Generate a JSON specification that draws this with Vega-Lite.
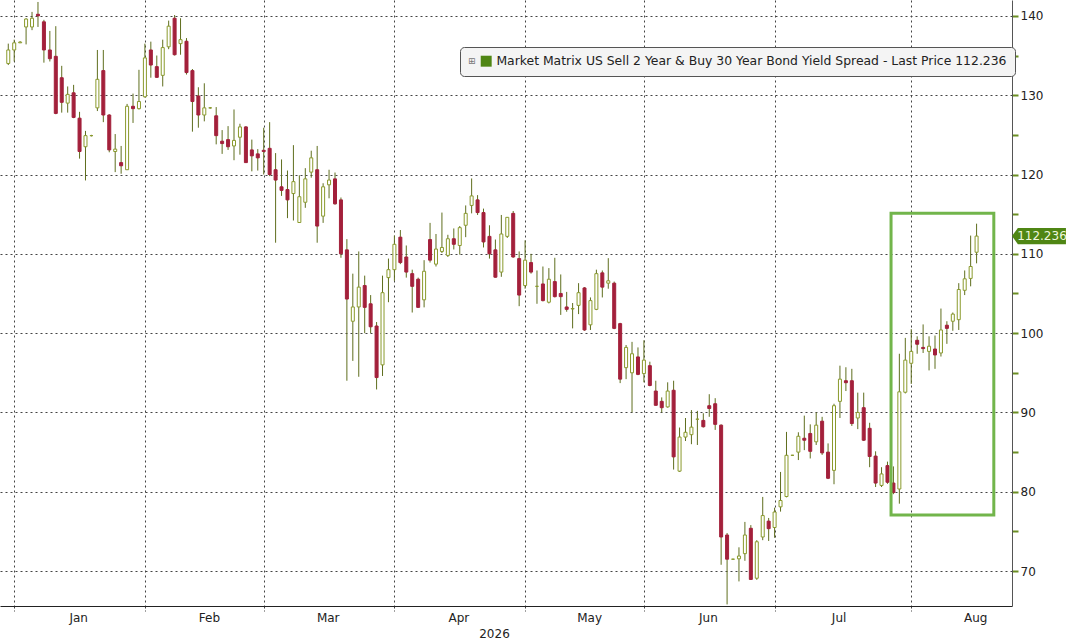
{
  "$schema": "https://vega.github.io/schema/vega-lite/v6.json",
  "description": "Market Matrix US Sell 2 Year & Buy 30 Year Bond Yield Spread, daily candles",
  "width": 1012,
  "height": 606,
  "autosize": {"type": "none"},
  "padding": {"left": 0, "top": 0, "right": 55, "bottom": 34},
  "background": "white",
  "config": {
    "font": "DejaVu Sans",
    "view": {"stroke": null}
  },
  "data": {
    "values": [
      {"day": 0, "open": 134.0, "high": 136.5, "low": 133.8, "close": 135.7},
      {"day": 1, "open": 135.7, "high": 137.0, "low": 134.25, "close": 136.6},
      {"day": 2, "open": 136.6, "high": 136.8, "low": 136.6, "close": 136.7},
      {"day": 3, "open": 138.6, "high": 139.7, "low": 136.4, "close": 139.6},
      {"day": 4, "open": 138.6, "high": 140.5, "low": 138.2, "close": 139.7},
      {"day": 5, "open": 140.2, "high": 141.75, "low": 138.6, "close": 140.0},
      {"day": 6, "open": 139.25, "high": 139.5, "low": 134.1, "close": 135.7},
      {"day": 7, "open": 135.7, "high": 138.1, "low": 134.25, "close": 134.6},
      {"day": 8, "open": 134.9, "high": 138.7, "low": 127.6, "close": 127.7},
      {"day": 9, "open": 132.2, "high": 133.7, "low": 127.8, "close": 129.1},
      {"day": 10, "open": 129.0, "high": 131.1, "low": 127.8, "close": 130.1},
      {"day": 11, "open": 130.3, "high": 131.3, "low": 127.1, "close": 127.2},
      {"day": 12, "open": 127.1, "high": 127.9, "low": 122.0, "close": 122.9},
      {"day": 13, "open": 123.5, "high": 125.5, "low": 119.25, "close": 124.9},
      {"day": 14, "open": 124.9, "high": 125.0, "low": 124.8, "close": 124.9},
      {"day": 15, "open": 128.4, "high": 135.7, "low": 128.0, "close": 132.0},
      {"day": 16, "open": 133.1, "high": 135.7, "low": 126.6, "close": 127.5},
      {"day": 17, "open": 127.5, "high": 127.6, "low": 122.8, "close": 123.1},
      {"day": 18, "open": 122.9, "high": 125.1, "low": 120.3, "close": 123.2},
      {"day": 19, "open": 121.5, "high": 123.6, "low": 120.1, "close": 121.1},
      {"day": 20, "open": 120.6, "high": 128.9, "low": 120.6, "close": 128.6},
      {"day": 21, "open": 128.6, "high": 130.2, "low": 126.5, "close": 128.3},
      {"day": 22, "open": 128.3, "high": 133.2, "low": 128.2, "close": 129.2},
      {"day": 23, "open": 129.8, "high": 136.5, "low": 129.7, "close": 134.7},
      {"day": 24, "open": 135.7, "high": 136.75, "low": 132.2, "close": 133.8},
      {"day": 25, "open": 133.6, "high": 135.0, "low": 132.2, "close": 132.25},
      {"day": 26, "open": 132.5, "high": 137.0, "low": 131.1, "close": 136.0},
      {"day": 27, "open": 136.1, "high": 139.4, "low": 135.8, "close": 138.7},
      {"day": 28, "open": 139.7, "high": 140.1, "low": 135.0, "close": 135.1},
      {"day": 29, "open": 136.5, "high": 139.7, "low": 135.1, "close": 137.0},
      {"day": 30, "open": 136.8, "high": 137.2, "low": 132.6, "close": 132.85},
      {"day": 31, "open": 133.1, "high": 133.3, "low": 125.4, "close": 129.2},
      {"day": 32, "open": 129.9, "high": 131.0, "low": 125.9, "close": 127.5},
      {"day": 33, "open": 127.5, "high": 131.5, "low": 126.7, "close": 128.4},
      {"day": 34, "open": 128.4, "high": 128.5, "low": 128.3, "close": 128.4},
      {"day": 35, "open": 127.4, "high": 128.5, "low": 123.8, "close": 124.9},
      {"day": 36, "open": 124.2, "high": 125.6, "low": 122.6, "close": 123.9},
      {"day": 37, "open": 124.4, "high": 126.1, "low": 123.1, "close": 123.5},
      {"day": 38, "open": 123.6, "high": 128.2, "low": 121.8, "close": 124.3},
      {"day": 39, "open": 124.7, "high": 126.4, "low": 122.5, "close": 126.0},
      {"day": 40, "open": 126.0, "high": 126.1, "low": 121.5, "close": 121.5},
      {"day": 41, "open": 123.1, "high": 124.4, "low": 120.4, "close": 122.35},
      {"day": 42, "open": 122.6, "high": 123.2, "low": 120.5, "close": 122.1},
      {"day": 43, "open": 123.05, "high": 125.9, "low": 120.0, "close": 122.9},
      {"day": 44, "open": 123.3, "high": 126.6, "low": 119.8, "close": 120.0},
      {"day": 45, "open": 120.6, "high": 122.7, "low": 111.4, "close": 119.3},
      {"day": 46, "open": 118.45, "high": 121.9, "low": 117.3, "close": 118.0},
      {"day": 47, "open": 118.1, "high": 120.5, "low": 114.5, "close": 116.8},
      {"day": 48, "open": 117.6, "high": 123.7, "low": 114.2, "close": 119.1},
      {"day": 49, "open": 113.95, "high": 119.9, "low": 113.9, "close": 117.2},
      {"day": 50, "open": 116.5, "high": 120.8, "low": 115.8, "close": 119.45},
      {"day": 51, "open": 120.3, "high": 123.0, "low": 119.6, "close": 122.1},
      {"day": 52, "open": 120.6, "high": 123.6, "low": 111.4, "close": 113.5},
      {"day": 53, "open": 114.75, "high": 118.9, "low": 113.9, "close": 118.45},
      {"day": 54, "open": 118.7, "high": 120.6, "low": 117.0, "close": 119.3},
      {"day": 55, "open": 119.45, "high": 120.25, "low": 116.2, "close": 116.3},
      {"day": 56, "open": 116.8, "high": 117.1, "low": 109.5, "close": 110.0},
      {"day": 57, "open": 110.5, "high": 111.85, "low": 94.0, "close": 104.3},
      {"day": 58, "open": 101.5, "high": 107.5, "low": 96.5, "close": 103.3},
      {"day": 59, "open": 103.3, "high": 110.3, "low": 94.5, "close": 105.8},
      {"day": 60, "open": 106.0, "high": 107.25, "low": 100.0, "close": 103.25},
      {"day": 61, "open": 103.7, "high": 104.8, "low": 100.0, "close": 100.8},
      {"day": 62, "open": 100.9, "high": 101.4, "low": 92.9, "close": 94.4},
      {"day": 63, "open": 96.0, "high": 107.25, "low": 94.6, "close": 105.1},
      {"day": 64, "open": 107.0, "high": 109.4, "low": 103.9, "close": 108.0},
      {"day": 65, "open": 108.0, "high": 112.3, "low": 106.6, "close": 111.2},
      {"day": 66, "open": 112.1, "high": 113.0, "low": 108.7, "close": 108.9},
      {"day": 67, "open": 109.6, "high": 111.05, "low": 107.0, "close": 107.7},
      {"day": 68, "open": 107.5, "high": 108.0, "low": 102.6, "close": 105.9},
      {"day": 69, "open": 106.8, "high": 107.0, "low": 103.2, "close": 103.25},
      {"day": 70, "open": 104.2, "high": 109.2, "low": 103.25, "close": 107.8},
      {"day": 71, "open": 111.8, "high": 113.9, "low": 108.9, "close": 109.2},
      {"day": 72, "open": 108.7, "high": 112.5, "low": 108.4, "close": 110.6},
      {"day": 73, "open": 110.3, "high": 115.2, "low": 110.1, "close": 110.8},
      {"day": 74, "open": 109.8, "high": 112.4, "low": 109.6, "close": 111.9},
      {"day": 75, "open": 111.9, "high": 113.2, "low": 110.55, "close": 111.2},
      {"day": 76, "open": 111.05, "high": 113.5, "low": 109.9, "close": 113.3},
      {"day": 77, "open": 113.6, "high": 116.1, "low": 112.1, "close": 115.1},
      {"day": 78, "open": 116.1, "high": 119.5, "low": 115.1, "close": 117.3},
      {"day": 79, "open": 116.8, "high": 117.4, "low": 114.9, "close": 115.2},
      {"day": 80, "open": 115.2, "high": 115.7, "low": 110.8, "close": 111.5},
      {"day": 81, "open": 112.2, "high": 113.6, "low": 109.4, "close": 110.0},
      {"day": 82, "open": 110.5, "high": 111.8, "low": 107.0, "close": 107.05},
      {"day": 83, "open": 107.7, "high": 114.9, "low": 107.1, "close": 112.5},
      {"day": 84, "open": 112.2, "high": 114.6, "low": 112.0, "close": 114.6},
      {"day": 85, "open": 115.1, "high": 115.4, "low": 109.5, "close": 109.6},
      {"day": 86, "open": 109.4, "high": 110.3, "low": 103.4, "close": 104.8},
      {"day": 87, "open": 106.0, "high": 111.7, "low": 105.6, "close": 109.2},
      {"day": 88, "open": 108.9, "high": 110.0, "low": 107.5, "close": 107.7},
      {"day": 89, "open": 105.9, "high": 107.9, "low": 103.7, "close": 105.9},
      {"day": 90, "open": 106.2, "high": 108.4, "low": 104.0, "close": 104.1},
      {"day": 91, "open": 103.9, "high": 108.2, "low": 103.75, "close": 106.8},
      {"day": 92, "open": 106.5, "high": 109.5, "low": 104.5, "close": 104.6},
      {"day": 93, "open": 105.0, "high": 107.4, "low": 102.3, "close": 104.6},
      {"day": 94, "open": 103.3, "high": 105.2, "low": 102.7, "close": 103.0},
      {"day": 95, "open": 103.05, "high": 103.8, "low": 100.6, "close": 103.1},
      {"day": 96, "open": 103.5, "high": 106.3, "low": 102.4, "close": 105.1},
      {"day": 97, "open": 105.7, "high": 105.8, "low": 100.3, "close": 100.4},
      {"day": 98, "open": 101.05, "high": 104.5, "low": 100.4, "close": 104.1},
      {"day": 99, "open": 103.0, "high": 108.0, "low": 102.9, "close": 107.5},
      {"day": 100, "open": 107.6, "high": 107.9, "low": 104.5, "close": 105.8},
      {"day": 101, "open": 106.3, "high": 109.45, "low": 105.6, "close": 106.6},
      {"day": 102, "open": 106.3, "high": 106.5, "low": 100.5, "close": 100.6},
      {"day": 103, "open": 101.2, "high": 101.3, "low": 93.7, "close": 94.2},
      {"day": 104, "open": 95.65, "high": 98.5, "low": 94.2, "close": 98.2},
      {"day": 105, "open": 95.0, "high": 98.9, "low": 90.0, "close": 97.4},
      {"day": 106, "open": 97.0, "high": 98.2, "low": 94.7, "close": 94.8},
      {"day": 107, "open": 94.9, "high": 99.1, "low": 93.8, "close": 96.6},
      {"day": 108, "open": 95.9, "high": 96.4, "low": 93.3, "close": 93.4},
      {"day": 109, "open": 92.7, "high": 94.0, "low": 90.9, "close": 90.9},
      {"day": 110, "open": 91.4, "high": 91.9, "low": 90.0, "close": 90.6},
      {"day": 111, "open": 90.7, "high": 93.8, "low": 90.6, "close": 92.7},
      {"day": 112, "open": 92.8, "high": 94.0, "low": 82.8, "close": 84.4},
      {"day": 113, "open": 82.6, "high": 88.1, "low": 82.5, "close": 86.9},
      {"day": 114, "open": 86.9, "high": 89.3, "low": 86.4, "close": 87.5},
      {"day": 115, "open": 87.2, "high": 90.3, "low": 86.0, "close": 88.15},
      {"day": 116, "open": 89.15, "high": 90.2, "low": 85.9, "close": 89.15},
      {"day": 117, "open": 89.0, "high": 89.9, "low": 88.1, "close": 88.2},
      {"day": 118, "open": 90.85, "high": 92.3, "low": 89.45, "close": 90.5},
      {"day": 119, "open": 91.1, "high": 91.8, "low": 87.8, "close": 88.5},
      {"day": 120, "open": 88.4, "high": 88.5, "low": 70.8, "close": 74.3},
      {"day": 121, "open": 74.55, "high": 74.8, "low": 65.8, "close": 71.5},
      {"day": 122, "open": 71.5, "high": 71.55, "low": 71.45, "close": 71.5},
      {"day": 123, "open": 71.55, "high": 73.0, "low": 68.7, "close": 71.9},
      {"day": 124, "open": 72.2, "high": 76.2, "low": 71.3, "close": 74.55},
      {"day": 125, "open": 75.4, "high": 75.8, "low": 68.9, "close": 68.95},
      {"day": 126, "open": 69.1, "high": 73.9, "low": 68.9, "close": 73.7},
      {"day": 127, "open": 74.3, "high": 79.35, "low": 73.9, "close": 77.0},
      {"day": 128, "open": 76.3, "high": 76.7, "low": 73.8, "close": 75.35},
      {"day": 129, "open": 75.5, "high": 78.0, "low": 74.2, "close": 77.45},
      {"day": 130, "open": 78.1, "high": 82.5, "low": 77.5, "close": 78.9},
      {"day": 131, "open": 79.4, "high": 87.55, "low": 79.3, "close": 84.6},
      {"day": 132, "open": 84.6, "high": 84.65, "low": 84.55, "close": 84.6},
      {"day": 133, "open": 85.0, "high": 87.5, "low": 84.0, "close": 87.0},
      {"day": 134, "open": 86.75, "high": 89.6, "low": 85.25, "close": 86.5},
      {"day": 135, "open": 87.35, "high": 88.5, "low": 84.2, "close": 85.1},
      {"day": 136, "open": 86.3, "high": 90.0, "low": 85.9, "close": 88.4},
      {"day": 137, "open": 88.9, "high": 89.45, "low": 84.65, "close": 84.9},
      {"day": 138, "open": 85.0, "high": 86.1, "low": 81.6, "close": 81.7},
      {"day": 139, "open": 82.7, "high": 91.1, "low": 80.95, "close": 90.85},
      {"day": 140, "open": 91.4, "high": 95.9, "low": 89.3, "close": 94.2},
      {"day": 141, "open": 94.0, "high": 95.7, "low": 92.7, "close": 93.75},
      {"day": 142, "open": 94.0, "high": 95.5, "low": 88.3, "close": 88.6},
      {"day": 143, "open": 89.3, "high": 92.5, "low": 87.9, "close": 90.0},
      {"day": 144, "open": 90.6, "high": 92.5, "low": 86.4, "close": 86.5},
      {"day": 145, "open": 88.0, "high": 88.7, "low": 83.1, "close": 84.45},
      {"day": 146, "open": 84.5, "high": 85.1, "low": 80.6, "close": 81.1},
      {"day": 147, "open": 80.8, "high": 83.1, "low": 80.6, "close": 82.25},
      {"day": 148, "open": 83.3, "high": 83.8, "low": 81.0, "close": 81.2},
      {"day": 149, "open": 81.1, "high": 83.2, "low": 79.7, "close": 79.9},
      {"day": 150, "open": 80.35, "high": 97.4, "low": 78.5, "close": 92.6},
      {"day": 151, "open": 92.55, "high": 99.4, "low": 92.4, "close": 96.6},
      {"day": 152, "open": 96.2, "high": 100.5, "low": 93.6, "close": 97.7},
      {"day": 153, "open": 99.1, "high": 99.6, "low": 97.4, "close": 98.6},
      {"day": 154, "open": 98.2, "high": 101.1, "low": 97.5, "close": 98.05},
      {"day": 155, "open": 97.7, "high": 99.6, "low": 95.3, "close": 98.35},
      {"day": 156, "open": 98.0, "high": 99.7, "low": 95.5, "close": 97.25},
      {"day": 157, "open": 97.5, "high": 103.1, "low": 97.05, "close": 100.4},
      {"day": 158, "open": 101.0, "high": 101.5, "low": 98.65, "close": 100.6},
      {"day": 159, "open": 101.5, "high": 102.6, "low": 100.3, "close": 102.4},
      {"day": 160, "open": 101.7, "high": 106.3, "low": 100.4, "close": 105.5},
      {"day": 161, "open": 105.4, "high": 107.9, "low": 104.8, "close": 106.85},
      {"day": 162, "open": 106.9, "high": 112.3, "low": 105.9, "close": 108.4},
      {"day": 163, "open": 110.2, "high": 113.8, "low": 108.8, "close": 112.236}
    ]
  },
  "layer": [
    {
      "mark": {"type": "rule", "color": "#5f6e1e", "strokeWidth": 1},
      "encoding": {
        "x": {
          "field": "day",
          "type": "quantitative",
          "title": "2026",
          "scale": {"domain": [-0.55, 168.12], "nice": false, "zero": false},
          "axis": {
            "values": [1, 23, 43, 65, 87, 107, 129, 152],
            "labelExpr": "['Jan','Feb','Mar','Apr','May','Jun','Jul','Aug'][indexof([1,23,43,65,87,107,129,152], datum.value)]",
            "labelOffset": 64,
            "labelAlign": "center",
            "labelFlush": false,
            "labelOverlap": false,
            "labelBound": false,
            "labelPadding": 1,
            "labelFontSize": 12,
            "labelColor": "#222222",
            "grid": true,
            "gridDash": [2, 3],
            "gridColor": "#444444",
            "ticks": true,
            "tickSize": 5,
            "tickDash": [2, 2],
            "tickColor": "#444444",
            "domainColor": "#222222",
            "titleX": 494,
            "titleY": 31,
            "titleAlign": "center",
            "titleBaseline": "alphabetic",
            "titleFontWeight": "normal",
            "titleFontSize": 12,
            "titleColor": "#222222"
          }
        },
        "y": {
          "field": "low",
          "type": "quantitative",
          "title": null,
          "scale": {"domain": [65.6, 142], "nice": false, "zero": false},
          "axis": {
            "orient": "right",
            "values": [70, 75, 80, 85, 90, 95, 100, 105, 110, 115, 120, 125, 130, 135, 140],
            "labelExpr": "datum.value % 10 === 0 ? datum.label : ''",
            "labelFontSize": 12,
            "labelColor": "#222222",
            "labelPadding": 2,
            "grid": true,
            "gridDash": [2, 3],
            "gridColor": "#444444",
            "gridOpacity": {"condition": {"test": "datum.value % 10 !== 0", "value": 0}, "value": 1},
            "tickColor": "#6b8e23",
            "tickSize": 6,
            "tickWidth": 2,
            "domainColor": "#555555"
          }
        },
        "y2": {"field": "high"}
      }
    },
    {
      "mark": {"type": "bar", "width": 3, "strokeWidth": 1},
      "encoding": {
        "x": {"field": "day", "type": "quantitative", "title": "2026"},
        "y": {"field": "open", "type": "quantitative", "title": null},
        "y2": {"field": "close"},
        "fill": {
          "condition": {"test": "datum.close < datum.open", "value": "#a3203b"},
          "value": "#ffffff"
        },
        "stroke": {
          "condition": {"test": "datum.close < datum.open", "value": "#a3203b"},
          "value": "#8a9a2c"
        }
      }
    },
    {
      "data": {"values": [{}]},
      "mark": {"type": "rect", "filled": false, "color": "#72b54b", "strokeWidth": 3},
      "encoding": {
        "x": {"datum": 148.6},
        "x2": {"datum": 165.9},
        "y": {"datum": 77.07},
        "y2": {"datum": 115.11}
      }
    },
    {
      "data": {"values": [{"price": 112.236}]},
      "mark": {
        "type": "point",
        "shape": "M -1 0 L -0.78 -0.3 L 1 -0.3 L 1 0.3 L -0.78 0.3 Z",
        "size": 2916,
        "filled": true,
        "opacity": 1,
        "clip": false
      },
      "encoding": {
        "x": {"datum": 173.5},
        "y": {"field": "price", "type": "quantitative", "title": null},
        "color": {
          "datum": "Market Matrix US Sell 2 Year & Buy 30 Year Bond Yield Spread - Last Price 112.236",
          "scale": {"range": ["#4f8614"]},
          "legend": {
            "orient": "none",
            "legendX": 460,
            "legendY": 47,
            "title": "⊞",
            "titleOrient": "left",
            "titleFontSize": 9,
            "titleColor": "#777777",
            "titleFontWeight": "normal",
            "titlePadding": 4,
            "symbolType": "square",
            "symbolSize": 120,
            "symbolStrokeWidth": 0,
            "labelFontSize": 12.4,
            "labelColor": "#222222",
            "labelLimit": 1000,
            "fillColor": "#f4f4f4",
            "strokeColor": "#555555",
            "cornerRadius": 4,
            "padding": 8
          }
        }
      }
    },
    {
      "data": {"values": [{"price": 112.236}]},
      "mark": {
        "type": "text",
        "align": "center",
        "baseline": "middle",
        "dx": 3,
        "fontSize": 12,
        "color": "#eef6dd",
        "clip": false
      },
      "encoding": {
        "x": {"datum": 173.5},
        "y": {"field": "price", "type": "quantitative", "title": null},
        "text": {"field": "price", "type": "quantitative", "format": ".3f"}
      }
    }
  ]
}
